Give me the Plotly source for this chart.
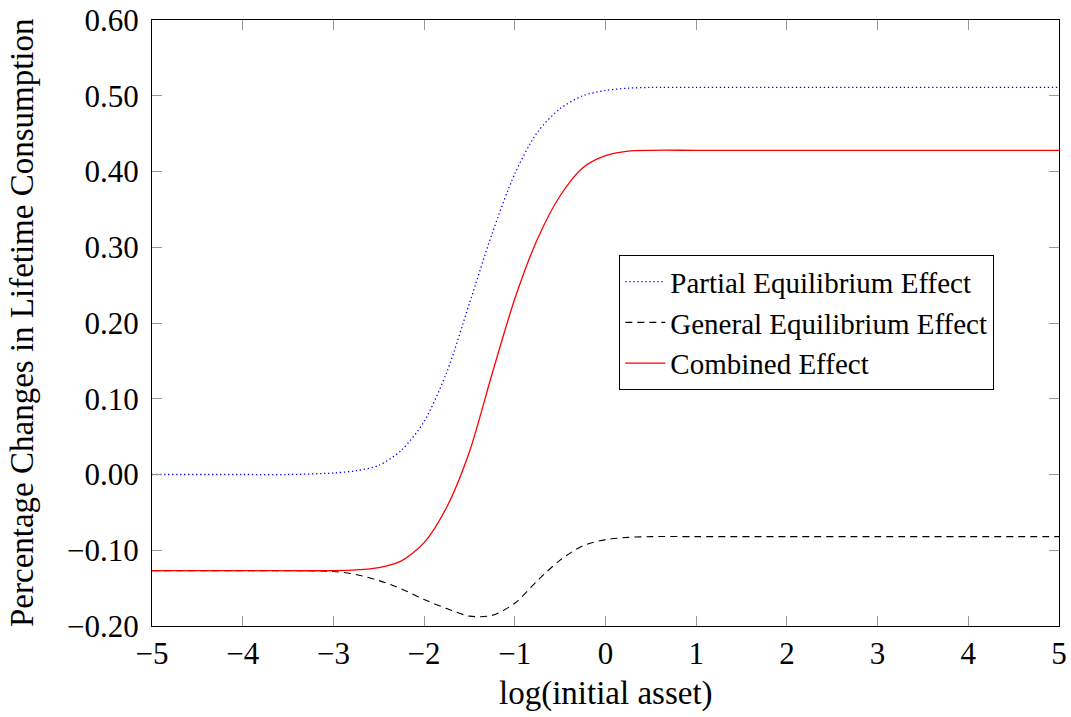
import plotly.graph_objects as go

# log(initial asset)
x_vals = [-5, -4, -3.5, -3, -2.75, -2.5, -2.25, -2, -1.75, -1.5, -1.25, -1,
          -0.75, -0.5, -0.25, 0, 0.25, 0.5, 1, 2, 3, 4, 5]

partial_eq = [0.000, 0.000, 0.000, 0.002, 0.005, 0.012, 0.032, 0.070, 0.135,
              0.226, 0.318, 0.397, 0.452, 0.483, 0.500, 0.507, 0.510, 0.511,
              0.511, 0.511, 0.511, 0.511, 0.511]

general_eq = [-0.127, -0.127, -0.127, -0.128, -0.132, -0.140, -0.151, -0.165,
              -0.177, -0.187, -0.186, -0.170, -0.140, -0.113, -0.094, -0.086,
              -0.083, -0.082, -0.082, -0.082, -0.082, -0.082, -0.082]

combined = [-0.127, -0.127, -0.127, -0.127, -0.126, -0.123, -0.114, -0.090,
            -0.043, 0.030, 0.133, 0.232, 0.311, 0.368, 0.405, 0.421, 0.427,
            0.428, 0.428, 0.428, 0.428, 0.428, 0.428]

x_ticks = [-5, -4, -3, -2, -1, 0, 1, 2, 3, 4, 5]
y_ticks = [-0.2, -0.1, 0.0, 0.1, 0.2, 0.3, 0.4, 0.5, 0.6]

FONT = "Liberation Serif"
TICK_FS = 31
TITLE_FS = 33
LEG_FS = 29

fig = go.Figure()
fig.add_trace(go.Scatter(x=x_vals, y=partial_eq, mode="lines",
                         name="Partial Equilibrium Effect",
                         line=dict(color="#0000ff", width=1.3, dash="1.3px,2.7px", shape="spline", smoothing=0.8)))
fig.add_trace(go.Scatter(x=x_vals, y=general_eq, mode="lines",
                         name="General Equilibrium Effect",
                         line=dict(color="black", width=1.1, dash="7px,5px", shape="spline", smoothing=0.8)))
fig.add_trace(go.Scatter(x=x_vals, y=combined, mode="lines",
                         name="Combined Effect",
                         line=dict(color="#ff0000", width=1.3, shape="spline", smoothing=0.8)))

axis_common = dict(
    showgrid=False, zeroline=False, showline=True, linecolor="black", linewidth=1.2,
    mirror="allticks", ticks="inside", ticklen=10, tickcolor="#999999", tickwidth=1.2,
    tickfont=dict(family=FONT, size=TICK_FS, color="black"), automargin=False,
)

fig.update_layout(
    width=1071, height=717,
    margin=dict(l=152, r=12, t=20, b=91),
    paper_bgcolor="white", plot_bgcolor="white",
    font=dict(family=FONT, size=TICK_FS, color="black"),
    xaxis=dict(range=[-5, 5], tickvals=x_ticks, ticklabelstandoff=0, **axis_common),
    yaxis=dict(range=[-0.2, 0.6], tickvals=y_ticks, tickformat=".2f",
               ticklabelstandoff=6, **axis_common),
    legend=dict(x=0.515, y=0.612, xanchor="left", yanchor="top",
                bgcolor="white", bordercolor="black", borderwidth=1.2,
                font=dict(family=FONT, size=LEG_FS), tracegroupgap=0, itemwidth=40),
    showlegend=True,
    annotations=[
        dict(text="log(initial asset)", xref="paper", yref="paper", x=0.5, y=0,
             xanchor="center", yanchor="middle", yshift=-67, showarrow=False,
             font=dict(family=FONT, size=TITLE_FS)),
        dict(text="Percentage Changes in Lifetime Consumption", xref="paper", yref="paper",
             x=0, y=0.5, xanchor="center", yanchor="middle", xshift=-130, textangle=-90,
             showarrow=False, font=dict(family=FONT, size=TITLE_FS)),
    ],
)

fig.write_html("out.html", config={"displayModeBar": False},
               post_script="document.body.style.margin='0';")
